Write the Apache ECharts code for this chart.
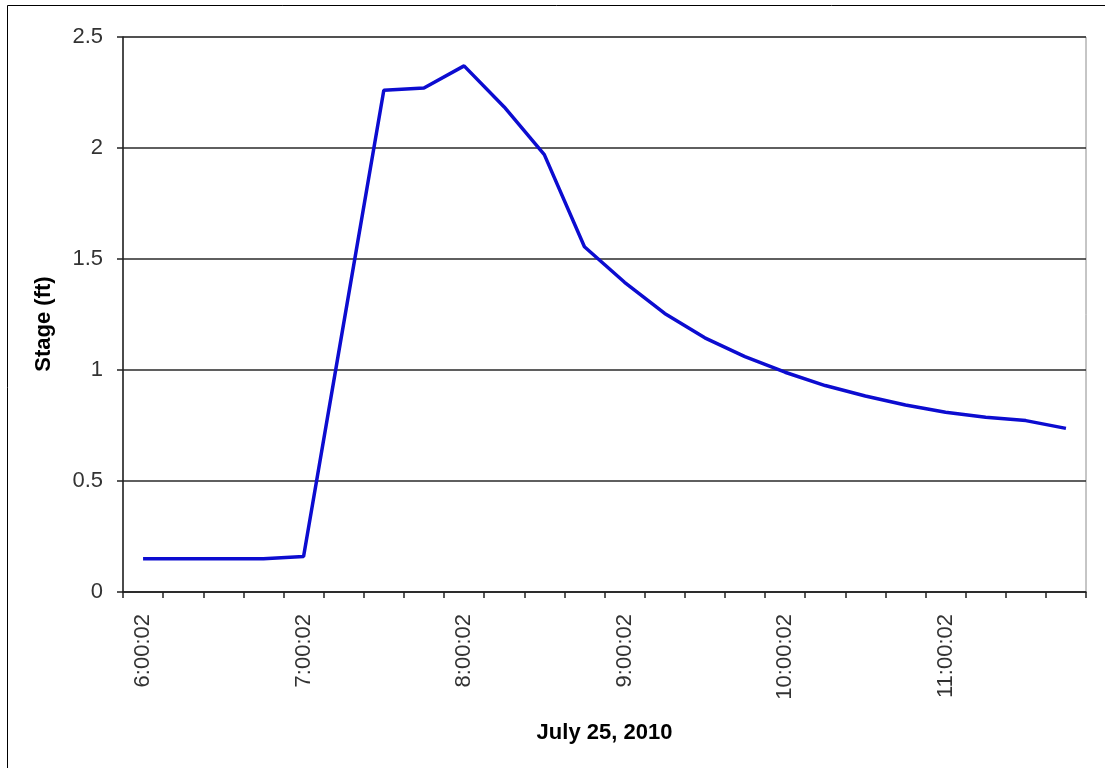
<!DOCTYPE html>
<html>
<head>
<meta charset="utf-8">
<script src="https://cdn.jsdelivr.net/npm/echarts@6/dist/echarts.min.js"></script>
<style>
  html, body { margin: 0; padding: 0; background: #fff; }
  #chart { width: 1105px; height: 768px; }
</style>
</head>
<body>
<div id="chart"></div>
<script>
// Stage readings, 15-minute interval, July 25, 2010
const times = [
  '6:00:02', '6:15:02', '6:30:02', '6:45:02',
  '7:00:02', '7:15:02', '7:30:02', '7:45:02',
  '8:00:02', '8:15:02', '8:30:02', '8:45:02',
  '9:00:02', '9:15:02', '9:30:02', '9:45:02',
  '10:00:02', '10:15:02', '10:30:02', '10:45:02',
  '11:00:02', '11:15:02', '11:30:02', '11:45:02'
];
const stageFt = [
  0.15, 0.15, 0.15, 0.15,
  0.16, 1.21, 2.26, 2.27,
  2.37, 2.185, 1.97, 1.555,
  1.395, 1.255, 1.145, 1.06,
  0.99, 0.93, 0.883, 0.842,
  0.81, 0.787, 0.772, 0.737
];
const xTitle = 'July 25, 2010';
const yTitle = 'Stage (ft)';

const FONT = '"Liberation Sans", Arial, sans-serif';
const chart = echarts.init(document.getElementById('chart'), null, { renderer: 'canvas' });

chart.setOption({
  backgroundColor: '#ffffff',
  animation: false,
  graphic: [
    {
      // chart-area frame
      type: 'rect',
      shape: { x: 7.5, y: 5.5, width: 1110, height: 780 },
      style: { fill: 'none', stroke: '#000', lineWidth: 1 },
      silent: true
    },
    {
      // value-axis title, rotated
      type: 'text',
      x: 44, y: 324,
      rotation: Math.PI / 2,
      style: {
        text: yTitle,
        font: 'bold 22px ' + FONT,
        fill: '#000',
        align: 'center',
        verticalAlign: 'middle'
      },
      silent: true
    }
  ],
  grid: {
    left: 123, right: 19, top: 37, bottom: 176,
    show: true, borderColor: '#8c8c8c', borderWidth: 1,
    containLabel: false
  },
  xAxis: {
    type: 'category',
    data: times,
    boundaryGap: true,
    name: xTitle,
    nameLocation: 'middle',
    nameGap: 130,
    nameTextStyle: { fontFamily: FONT, fontSize: 22, fontWeight: 'bold', color: '#000' },
    axisLine: { show: true, lineStyle: { color: '#222', width: 1.5 } },
    axisTick: { show: true, interval: 0, length: 6, inside: false, lineStyle: { color: '#222', width: 1.5 } },
    axisLabel: {
      interval: 3, rotate: 90, margin: 22,
      fontFamily: FONT, fontSize: 22, color: '#333'
    },
    splitLine: { show: false }
  },
  yAxis: {
    type: 'value',
    min: 0, max: 2.5, interval: 0.5,
    axisLine: { show: true, lineStyle: { color: '#222', width: 1.5 } },
    axisTick: { show: true, length: 6, inside: false, lineStyle: { color: '#222', width: 1.5 } },
    axisLabel: {
      margin: 20, fontFamily: FONT, fontSize: 22, color: '#333',
      formatter: v => String(v)
    },
    splitLine: { show: true, lineStyle: { color: '#2a2a2a', width: 1.5 } }
  },
  series: [{
    type: 'line',
    data: stageFt,
    showSymbol: false,
    smooth: false,
    lineStyle: { color: '#0c0cd0', width: 3.5 },
    itemStyle: { color: '#0c0cd0' },
    z: 5
  }]
});
</script>
</body>
</html>
